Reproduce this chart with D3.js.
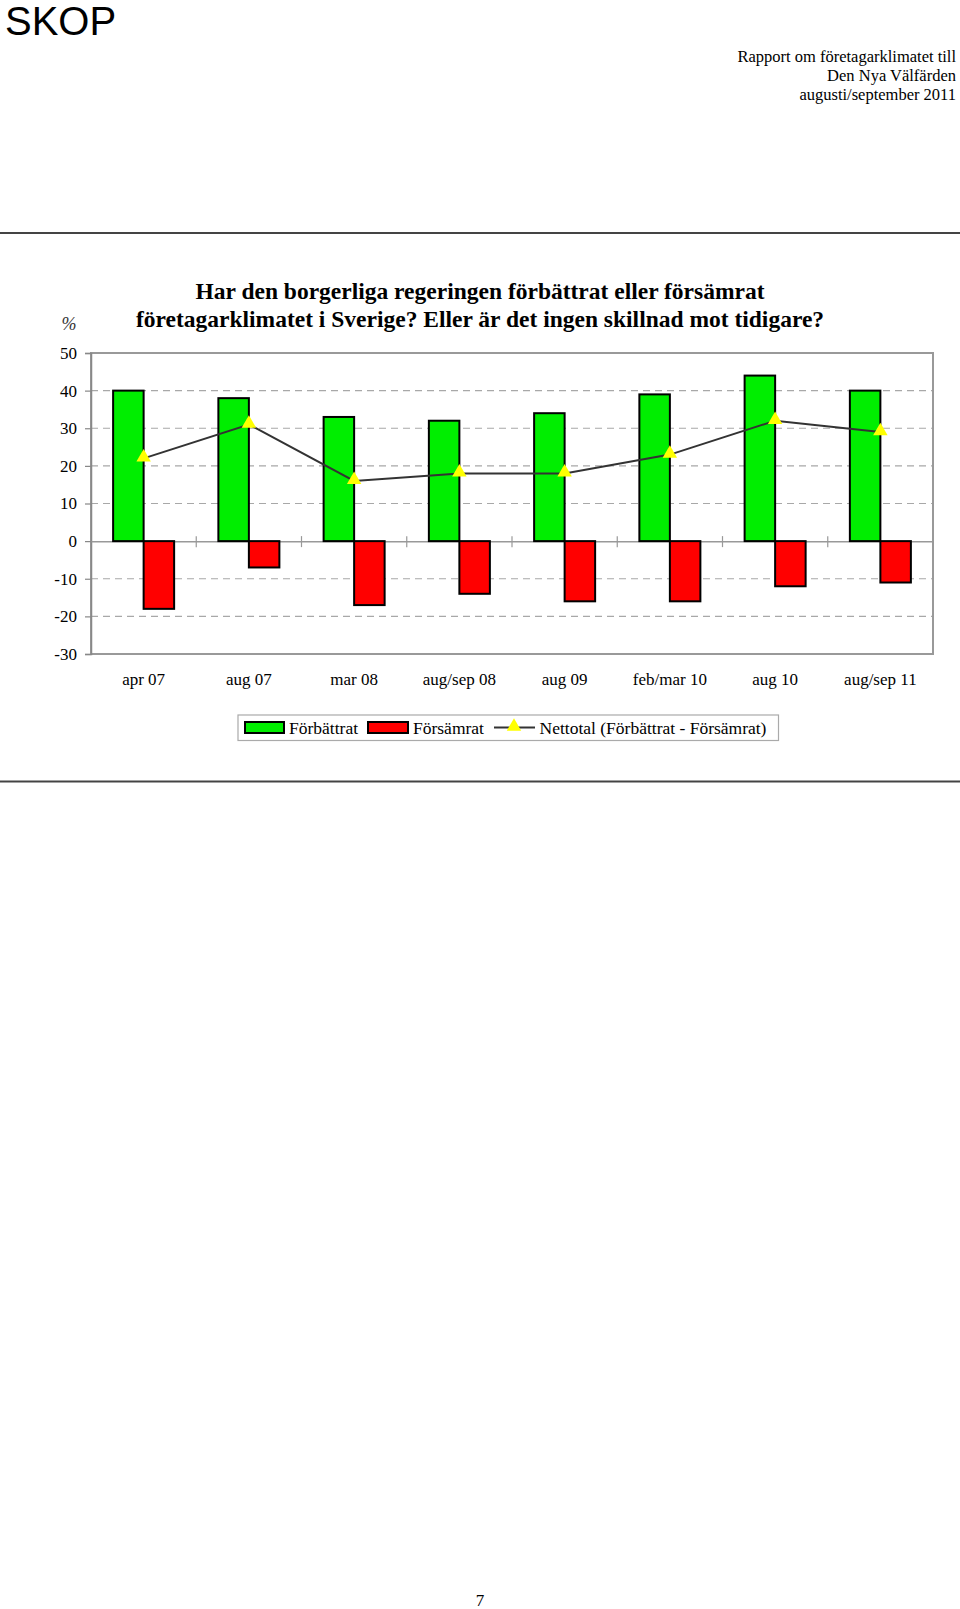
<!DOCTYPE html>
<html>
<head>
<meta charset="utf-8">
<script src="https://cdn.jsdelivr.net/npm/d3@7"></script>
<style>
  html, body { margin: 0; padding: 0; background: #fff; }
  svg { display: block; }
</style>
</head>
<body>
<script>
// ---- data ----
const categories = ["apr 07", "aug 07", "mar 08", "aug/sep 08", "aug 09", "feb/mar 10", "aug 10", "aug/sep 11"];
const forbattrat = [40, 38, 33, 32, 34, 39, 44, 40];
const forsamrat = [-18, -7, -17, -14, -16, -16, -12, -11];
const nettotal = [22, 31, 16, 18, 18, 23, 32, 29];
const yTicks = [50, 40, 30, 20, 10, 0, -10, -20, -30];
const gridValues = [40, 30, 20, 10, -10, -20];
const seriesNames = ["Förbättrat", "Försämrat", "Nettotal (Förbättrat - Försämrat)"];
const titleLines = ["Har den borgerliga regeringen förbättrat eller försämrat",
                    "företagarklimatet i Sverige? Eller är det ingen skillnad mot tidigare?"];
const headerLines = ["Rapport om företagarklimatet till", "Den Nya Välfärden", "augusti/september 2011"];

(function () {
const W = 960, H = 1609;
const serif = "'Liberation Serif', 'Times New Roman', serif";
const GREEN = "#00ee00", RED = "#ff0000", YELLOW = "#ffff00";

const svg = d3.select("body").append("svg").attr("width", W).attr("height", H);

// ---- page header ----
svg.append("text").attr("x", 5).attr("y", 35)
  .attr("font-family", "'Liberation Sans', Arial, sans-serif").attr("font-size", 40)
  .attr("fill", "#000").text("SKOP");

svg.selectAll("text.hdr").data(headerLines).enter().append("text")
  .attr("class", "hdr")
  .attr("x", 956).attr("y", (d, i) => 61.5 + i * 19)
  .attr("text-anchor", "end").attr("font-family", serif).attr("font-size", 16.5)
  .attr("fill", "#000").text(d => d);

svg.append("line").attr("x1", 0).attr("x2", W).attr("y1", 233).attr("y2", 233)
  .attr("stroke", "#444").attr("stroke-width", 2);
svg.append("line").attr("x1", 0).attr("x2", W).attr("y1", 781.5).attr("y2", 781.5)
  .attr("stroke", "#444").attr("stroke-width", 2);

// ---- title ----
svg.selectAll("text.title").data(titleLines).enter().append("text")
  .attr("class", "title")
  .attr("x", 480).attr("y", (d, i) => 298.5 + i * 28.5)
  .attr("text-anchor", "middle").attr("font-family", serif).attr("font-weight", "bold")
  .attr("font-size", 23.5).attr("fill", "#000").text(d => d);

// ---- scales ----
const pLeft = 91, pRight = 933, pTop = 353, pBottom = 654;
const x0 = d3.scaleBand().domain(categories).range([pLeft, pRight]).padding(0);
const x1 = d3.scaleBand().domain(["f", "s"]).range([0, x0.bandwidth()]).paddingInner(0).paddingOuter(0.725);
const y = d3.scaleLinear().domain([-30, 50]).range([pBottom, pTop]);

// gridlines
svg.append("g").selectAll("line").data(gridValues).enter().append("line")
  .attr("x1", pLeft).attr("x2", pRight)
  .attr("y1", d => y(d)).attr("y2", d => y(d))
  .attr("stroke", "#a8a8a8").attr("stroke-width", 1.2).attr("stroke-dasharray", "7,5");

// frame
svg.append("rect").attr("x", pLeft).attr("y", y(50)).attr("width", pRight - pLeft).attr("height", y(-30) - y(50))
  .attr("fill", "none").attr("stroke", "#999").attr("stroke-width", 2);

// y axis
const yAxis = d3.axisLeft(y).tickValues(yTicks).tickSize(6).tickPadding(8).tickFormat(d => String(d));
const gy = svg.append("g").attr("transform", `translate(${pLeft},0)`).call(yAxis);
gy.select(".domain").attr("stroke", "#888").attr("stroke-width", 1.5);
gy.selectAll(".tick line").attr("stroke", "#888").attr("stroke-width", 1.2);
gy.selectAll(".tick text").attr("font-family", serif).attr("font-size", 17).attr("fill", "#000")
  .attr("x", -14);

svg.append("text").attr("x", 69).attr("y", 330).attr("text-anchor", "middle")
  .attr("font-family", serif).attr("font-size", 18).attr("font-style", "italic").attr("fill", "#333").text("%");

// zero axis with category ticks
const xAxis = d3.axisBottom(x0).tickSize(0).tickFormat("");
const gx = svg.append("g").attr("transform", `translate(0,${y(0)})`).call(xAxis);
gx.select(".domain").attr("stroke", "#999").attr("stroke-width", 1.5);
svg.append("g").selectAll("line").data(categories.slice(1)).enter().append("line")
  .attr("x1", d => x0(d)).attr("x2", d => x0(d))
  .attr("y1", y(0) - 5).attr("y2", y(0) + 6)
  .attr("stroke", "#999").attr("stroke-width", 1.2);

// category labels
const xLab = d3.axisBottom(x0).tickSize(0).tickPadding(0);
const gl = svg.append("g").attr("transform", `translate(0,${pBottom + 26})`).call(xLab);
gl.select(".domain").remove();
gl.selectAll(".tick text").attr("font-family", serif).attr("font-size", 17).attr("fill", "#000")
  .attr("dy", "0.32em").attr("y", 0);

// bars
const barG = svg.append("g");
barG.selectAll("rect.f").data(categories).enter().append("rect").attr("class", "f")
  .attr("x", d => x0(d) + x1("f")).attr("width", x1.bandwidth())
  .attr("y", (d, i) => y(forbattrat[i])).attr("height", (d, i) => y(0) - y(forbattrat[i]))
  .attr("fill", GREEN).attr("stroke", "#000").attr("stroke-width", 2);
barG.selectAll("rect.s").data(categories).enter().append("rect").attr("class", "s")
  .attr("x", d => x0(d) + x1("s")).attr("width", x1.bandwidth())
  .attr("y", y(0)).attr("height", (d, i) => y(forsamrat[i]) - y(0))
  .attr("fill", RED).attr("stroke", "#000").attr("stroke-width", 2);

// net line
const cx = d => x0(d) + x0.bandwidth() / 2;
const line = d3.line().x((d, i) => cx(categories[i])).y(d => y(d));
svg.append("path").datum(nettotal).attr("d", line)
  .attr("fill", "none").attr("stroke", "#333").attr("stroke-width", 2);
const tri = d3.symbol().type(d3.symbolTriangle).size(90);
svg.append("g").selectAll("path").data(nettotal).enter().append("path")
  .attr("d", tri)
  .attr("transform", (d, i) => `translate(${cx(categories[i])},${y(d) - 1})`)
  .attr("fill", YELLOW);

// legend
const lg = svg.append("g");
lg.append("rect").attr("x", 238).attr("y", 715).attr("width", 540.5).attr("height", 25.5)
  .attr("fill", "#fff").attr("stroke", "#aaa").attr("stroke-width", 1.2);
lg.append("rect").attr("x", 245).attr("y", 722).attr("width", 39).attr("height", 11)
  .attr("fill", GREEN).attr("stroke", "#000").attr("stroke-width", 2);
lg.append("rect").attr("x", 368).attr("y", 722).attr("width", 40).attr("height", 11)
  .attr("fill", RED).attr("stroke", "#000").attr("stroke-width", 2);
lg.append("line").attr("x1", 494).attr("x2", 535).attr("y1", 727.5).attr("y2", 727.5)
  .attr("stroke", "#333").attr("stroke-width", 2);
lg.append("path").attr("d", tri).attr("transform", "translate(514,726.5)").attr("fill", YELLOW);
const legX = [289, 413, 539.5];
lg.selectAll("text").data(seriesNames).enter().append("text")
  .attr("x", (d, i) => legX[i]).attr("y", 734)
  .attr("font-family", serif).attr("font-size", 17.5).attr("fill", "#000").text(d => d);

// page number
svg.append("text").attr("x", 480).attr("y", 1606).attr("text-anchor", "middle")
  .attr("font-family", serif).attr("font-size", 17).attr("fill", "#000").text("7");
})();
</script>
</body>
</html>
